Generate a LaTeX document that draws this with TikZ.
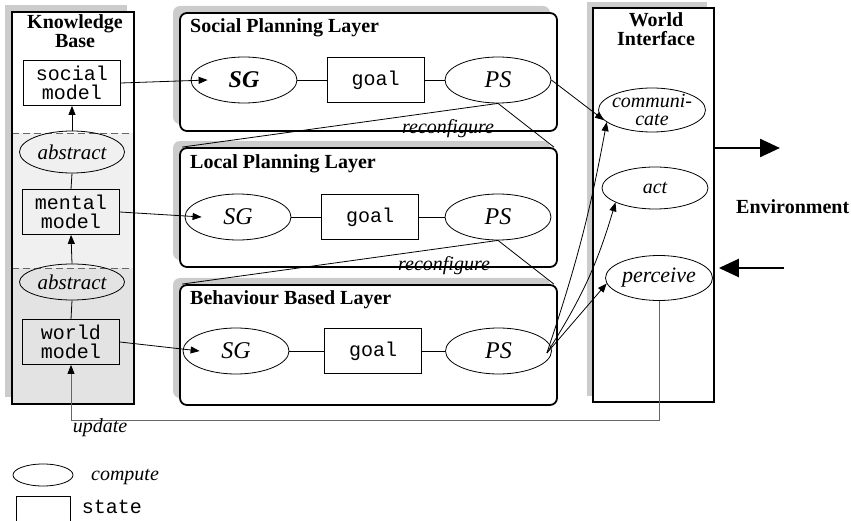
\documentclass[tikz,border=0pt]{standalone}
\usepackage{fontspec}
\setmainfont{Liberation Serif}
\setmonofont{Liberation Mono}
\usetikzlibrary{shapes.geometric, arrows.meta, calc}
\begin{document}
\begin{tikzpicture}[x=1pt, y=-1pt,
  wire/.style={line width=0.8pt},
  comp/.style={draw, ellipse, line width=0.8pt, minimum width=106pt, minimum height=46pt, inner sep=0pt},
  statebox/.style={draw, rectangle, line width=0.8pt, minimum width=97pt, minimum height=45pt, inner sep=0pt, align=center, font=\fontsize{20}{19}\selectfont\ttfamily},
  big/.style={font=\fontsize{24}{24}\selectfont\itshape, inner sep=0pt},
  lbl/.style={font=\fontsize{20}{18}\selectfont\itshape, align=center, inner sep=0pt},
  ttl/.style={font=\fontsize{20}{16}\selectfont\bfseries, align=center, inner sep=0pt},
  layer/.style={draw, line width=1.8pt, rounded corners=7pt, fill=white, minimum width=377pt, inner sep=0pt},
  shade/.style={fill=black!20},
  sep/.style={draw=black!60, line width=0.9pt, dash pattern=on 7pt off 4pt},
  arr/.style={-{Triangle[length=9pt,width=7pt]}, line width=0.8pt},
  upd/.style={draw=black!60, line width=0.8pt, -{Triangle[length=9pt,width=7pt,black]}},
  bigarr/.style={-{Triangle[length=20pt,width=18pt]}, line width=2.5pt},
]
\useasboundingbox (0,0) rectangle (851,521);

% ---------- Knowledge Base ----------
\fill[shade] (5,5) rectangle (127,397);
\fill[white] (12,12) rectangle (134,133);
\fill[black!6] (12,133) rectangle (134,268);
\fill[black!11] (12,268) rectangle (134,404);
\draw[sep] (12,133) -- (134,133);
\draw[sep] (12,268) -- (134,268);
\node[draw, line width=1.8pt, minimum width=122pt, minimum height=392pt, inner sep=0pt] (kb) at (73,208) {};
\node[ttl, font=\fontsize{20}{17}\selectfont\bfseries] (kbt) at (75,31) {Knowledge\\Base};

\node[statebox] (sm) at (72,83) {social\\model};
\node[comp, minimum width=105pt, minimum height=42pt, label={[lbl, font=\fontsize{21}{21}\selectfont\itshape]center:abstract}] (ab1) at (72,152) {};
\node[statebox] (mm) at (71,212) {mental\\model};
\node[comp, minimum width=105pt, minimum height=36pt, label={[lbl, font=\fontsize{21}{21}\selectfont\itshape]center:abstract}] (ab2) at (72,282) {};
\node[statebox] (wm) at (71,342) {world\\model};

\draw[arr] (ab1.north) -- (sm.south);
\draw[wire] (mm.north) -- (ab1.south);
\draw[arr] (ab2.north) -- (mm.south);
\draw[wire] (wm.north) -- (ab2.south);

% ---------- Layers ----------
\fill[shade, rounded corners=7pt] (173,6) rectangle (550,124);
\node[layer, minimum height=118pt] (soc) at (368.5,72) {};
\fill[shade, rounded corners=7pt] (173,141) rectangle (550,260);
\node[layer, minimum height=119pt] (loc) at (368.5,207.5) {};
\fill[shade, rounded corners=7pt] (173,278) rectangle (550,398);
\node[layer, minimum height=120pt] (beh) at (368.5,345) {};

\node[ttl, anchor=base west] (soct) at (190,33) {Social Planning Layer};
\node[ttl, anchor=base west] (loct) at (190,169) {Local Planning Layer};
\node[ttl, anchor=base west] (beht) at (190,305) {Behaviour Based Layer};

% social layer
\node[comp, label={[big, font=\fontsize{24}{24}\selectfont\bfseries\itshape]center:SG}] (ssg) at (244,80) {};
\node[statebox] (sgoal) at (375.5,80) {goal};
\node[comp, label={[big]center:PS}] (sps) at (498,80) {};
% local layer
\node[comp, label={[big]center:SG}] (lsg) at (238,217) {};
\node[statebox] (lgoal) at (370,217) {goal};
\node[comp, label={[big]center:PS}] (lps) at (498,217) {};
% behaviour layer
\node[comp, label={[big]center:SG}] (bsg) at (236,351) {};
\node[statebox] (bgoal) at (373,351) {goal};
\node[comp, label={[big]center:PS}] (bps) at (498.5,351) {};

\draw[wire] (ssg) -- (sgoal) -- (sps);
\draw[wire] (lsg) -- (lgoal) -- (lps);
\draw[wire] (bsg) -- (bgoal) -- (bps);

% ---------- World Interface ----------
\fill[shade] (587,2) rectangle (707,396);
\node[draw, fill=white, line width=1.8pt, minimum width=121pt, minimum height=394pt, inner sep=0pt] (wi) at (653.5,205) {};
\node[ttl, font=\fontsize{20}{18.5}\selectfont\bfseries] (wit) at (656,29) {World\\Interface};
\node[comp, minimum width=107pt, minimum height=44pt, label={[lbl, font=\fontsize{20}{18.5}\selectfont\itshape]center:communi-\\cate}] (com) at (652,110) {};
\node[comp, minimum width=106pt, minimum height=42pt, label={[lbl]center:act}] (act) at (655,188) {};
\node[comp, minimum width=107pt, minimum height=45pt, label={[lbl, font=\fontsize{22}{22}\selectfont\itshape]center:perceive}] (per) at (659,278) {};

% ---------- Environment ----------
\coordinate (e1) at (780,148);
\coordinate (e2) at (784,268);
\draw[bigarr] (wi.east |- e1) -- (e1);
\draw[bigarr] (e2) -- ($(wi.east |- e2)+(4,0)$);
\node[ttl, anchor=base west] (env) at (736,214) {Environment};

% ---------- Connectors ----------
\draw[arr] (sm.east) -- ($(ssg.west)+(17,0)$);
\draw[arr] (mm.east) -- ($(lsg.west)+(17,0)$);
\draw[arr] (wm.east) -- ($(bsg.west)+(17,0)$);

\draw[arr] (sps.east) -- (com.192);

\draw[wire] (sps.south) -- ([xshift=3pt]loc.north west);
\draw[wire] (sps.south) -- ([xshift=-4pt]loc.north east);
\node[lbl, anchor=base] (rc1) at (448,134) {reconfigure};
\draw[wire] (lps.south) -- ([xshift=3pt]beh.north west);
\draw[wire] (lps.south) -- ([xshift=-4pt]beh.north east);
\node[lbl, anchor=base] (rc2) at (444,271) {reconfigure};

\coordinate (bpo) at ($(bps.east)+(-5,2)$);
\draw[arr] (bpo) to[bend right=4] (com.195);
\draw[arr] (bpo) to[bend right=8] (act.200);
\draw[arr] (bpo) -- (per.186);

% update
\coordinate (u1) at (659,420);
\coordinate (u2) at (71,420);
\draw[upd] (per.south) -- (u1) -- (u2) -- (wm.south);
\node[lbl, anchor=base] (updt) at (100,432) {update};

% ---------- Legend ----------
\node[draw, ellipse, line width=0.8pt, minimum width=60pt, minimum height=22pt, inner sep=0pt] (legc) at (43,475) {};
\node[lbl, anchor=base] (legct) at (125,480) {compute};
\node[draw, rectangle, line width=0.8pt, minimum width=54pt, minimum height=25pt, inner sep=0pt] (legs) at (43,508.5) {};
\node[anchor=base, inner sep=0pt, font=\fontsize{20}{20}\selectfont\ttfamily] (legst) at (112,513) {state};
\end{tikzpicture}
\end{document}
